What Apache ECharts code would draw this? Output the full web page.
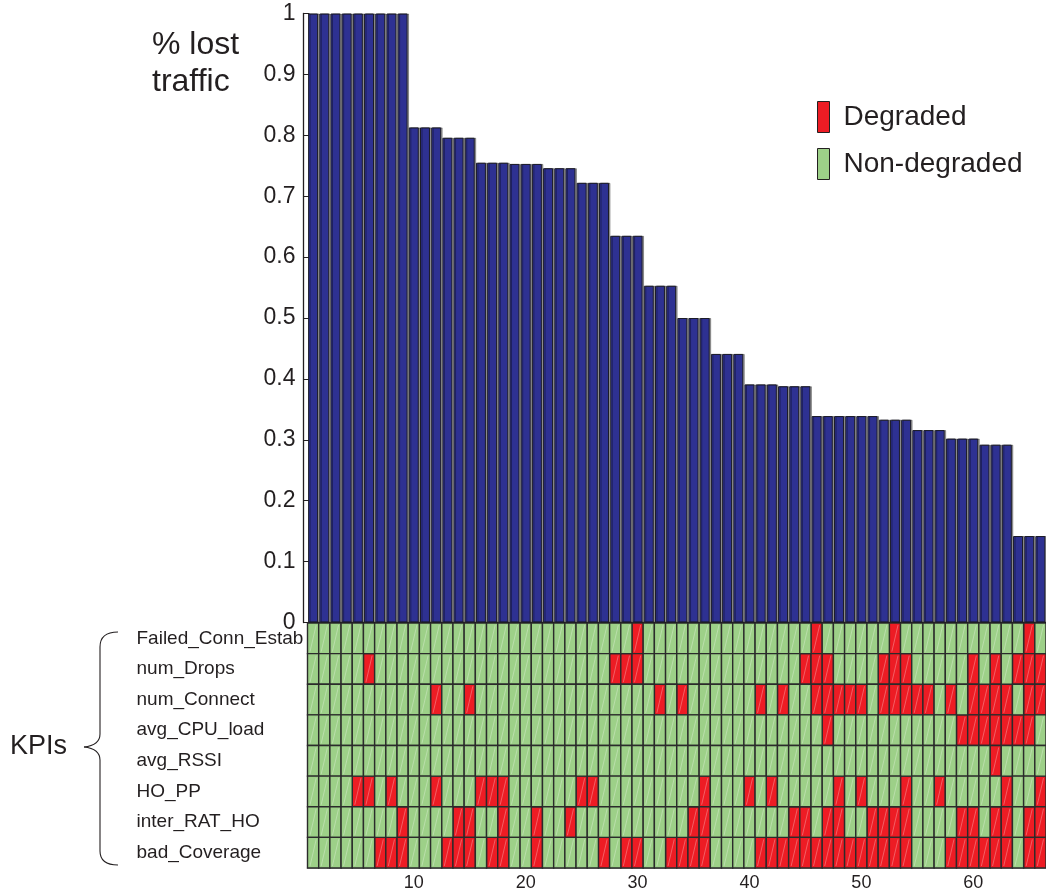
<!DOCTYPE html>
<html>
<head>
<meta charset="utf-8">
<script src="https://cdn.jsdelivr.net/npm/echarts@6/dist/echarts.min.js"></script>
<style>
  html, body { margin: 0; padding: 0; background: #ffffff; }
  #chart { width: 1046px; height: 892px; }
</style>
</head>
<body>
<div id="chart"></div>
<script>
// Cells (sites), sorted by share of lost traffic
const sites = ['1','2','3','4','5','6','7','8','9','10','11','12','13','14','15','16','17','18','19','20',
  '21','22','23','24','25','26','27','28','29','30','31','32','33','34','35','36','37','38','39','40',
  '41','42','43','44','45','46','47','48','49','50','51','52','53','54','55','56','57','58','59','60',
  '61','62','63','64','65','66'];

// Fraction of lost traffic per site
const lostTraffic = [
  1, 1, 1, 1, 1, 1, 1, 1, 1,
  0.813, 0.813, 0.813,
  0.796, 0.796, 0.796,
  0.755, 0.755, 0.755,
  0.753, 0.753, 0.753,
  0.746, 0.746, 0.746,
  0.722, 0.722, 0.722,
  0.635, 0.635, 0.635,
  0.553, 0.553, 0.553,
  0.500, 0.500, 0.500,
  0.441, 0.441, 0.441,
  0.391, 0.391, 0.391,
  0.388, 0.388, 0.388,
  0.339, 0.339, 0.339, 0.339, 0.339, 0.339,
  0.333, 0.333, 0.333,
  0.316, 0.316, 0.316,
  0.302, 0.302, 0.302,
  0.292, 0.292, 0.292,
  0.142, 0.142, 0.142
];

// KPI rows, top to bottom
const kpiNames = ['Failed_Conn_Estab', 'num_Drops', 'num_Connect', 'avg_CPU_load',
  'avg_RSSI', 'HO_PP', 'inter_RAT_HO', 'bad_Coverage'];

// Sites (1-based) where each KPI is degraded
const degFailedConnEstab = [30, 46, 53, 65];
const degNumDrops = [6, 28, 29, 30, 45, 46, 47, 52, 53, 54, 60, 62, 64, 65, 66];
const degNumConnect = [12, 15, 32, 34, 41, 43, 46, 47, 48, 49, 50, 52, 53, 54, 55, 56, 58, 60, 61, 62, 63, 65, 66];
const degAvgCpuLoad = [47, 59, 60, 61, 62, 63, 64, 65];
const degAvgRssi = [62];
const degHoPP = [5, 6, 8, 12, 16, 17, 18, 25, 26, 36, 40, 42, 48, 50, 54, 57, 63, 66];
const degInterRatHo = [9, 14, 15, 18, 21, 24, 35, 36, 44, 45, 47, 48, 51, 52, 53, 54, 59, 60, 62, 63, 65, 66];
const degBadCoverage = [7, 8, 9, 13, 14, 15, 17, 18, 21, 27, 29, 30, 33, 34, 35, 36,
  41, 42, 43, 44, 45, 46, 47, 48, 49, 50, 51, 52, 53, 54, 58, 59, 60, 61, 62, 63, 65, 66];

const degradedByKpi = [degFailedConnEstab, degNumDrops, degNumConnect, degAvgCpuLoad,
  degAvgRssi, degHoPP, degInterRatHo, degBadCoverage];

// Sites that carry an x-axis label
const labelledSites = [10, 20, 30, 40, 50, 60];

const INK = '#231f20';
const FONT = '"Liberation Sans", Arial, Helvetica, sans-serif';

// Split the KPI x site matrix into degraded / non-degraded cells
const degradedCells = [];
const okCells = [];
kpiNames.forEach(function (name, row) {
  const bad = degradedByKpi[row];
  sites.forEach(function (s, col) {
    if (bad.indexOf(col + 1) >= 0) degradedCells.push([col, row]);
    else okCells.push([col, row]);
  });
});

// Each cell: filled box with a thin light diagonal stroke
function renderCell(params, api) {
  const c = api.coord([api.value(0), api.value(1)]);
  const sz = api.size([1, 1]);
  const w = sz[0], h = sz[1];
  const x0 = c[0] - w / 2, y0 = c[1] - h / 2;
  return {
    type: 'group',
    children: [
      { type: 'rect', shape: { x: x0, y: y0, width: w, height: h },
        style: { fill: api.visual('color'), stroke: '#2b2b2b', lineWidth: 1.4 } },
      { type: 'line', shape: { x1: x0 + 2.5, y1: y0 + h - 2, x2: x0 + w - 2.5, y2: y0 + 2 },
        style: { stroke: 'rgba(255,255,255,0.33)', lineWidth: 0.9 } }
    ]
  };
}

// Curly brace grouping the KPI rows
const braceStyle = { fill: 'none', stroke: INK, lineWidth: 1.1 };
const brace = [
  { type: 'bezierCurve', silent: true, style: braceStyle,
    shape: { x1: 118, y1: 632, cpx1: 106, cpy1: 632, cpx2: 100, cpy2: 637, x2: 100, y2: 647 } },
  { type: 'line', silent: true, style: braceStyle,
    shape: { x1: 100, y1: 647, x2: 100, y2: 734 } },
  { type: 'bezierCurve', silent: true, style: braceStyle,
    shape: { x1: 100, y1: 734, cpx1: 100, cpy1: 742, cpx2: 93, cpy2: 746, x2: 84, y2: 747 } },
  { type: 'bezierCurve', silent: true, style: braceStyle,
    shape: { x1: 84, y1: 747, cpx1: 93, cpy1: 748, cpx2: 100, cpy2: 752, x2: 100, y2: 760 } },
  { type: 'line', silent: true, style: braceStyle,
    shape: { x1: 100, y1: 760, x2: 100, y2: 851 } },
  { type: 'bezierCurve', silent: true, style: braceStyle,
    shape: { x1: 100, y1: 851, cpx1: 100, cpy1: 860, cpx2: 106, cpy2: 865, x2: 118, y2: 865 } }
];

const chart = echarts.init(document.getElementById('chart'), null, { renderer: 'canvas' });

chart.setOption({
  animation: false,
  backgroundColor: '#ffffff',
  textStyle: { fontFamily: FONT },
  title: [
    { text: '% lost\ntraffic', left: 152, top: 27, padding: 0,
      textStyle: { fontSize: 32, lineHeight: 37, fontWeight: 'normal', color: INK, fontFamily: FONT } },
    { text: 'KPIs', left: 10, top: 732, padding: 0,
      textStyle: { fontSize: 27, lineHeight: 30, fontWeight: 'normal', color: INK, fontFamily: FONT } }
  ],
  legend: {
    orient: 'vertical',
    left: 817, top: 101,
    padding: 0,
    itemWidth: 12, itemHeight: 31, itemGap: 15,
    icon: 'rect',
    selectedMode: false,
    itemStyle: { borderColor: INK, borderWidth: 1 },
    textStyle: { fontSize: 28, color: INK, fontFamily: FONT, padding: [0, 0, 0, 9] },
    data: ['Degraded', 'Non-degraded']
  },
  graphic: brace,
  grid: [
    { left: 307.5, top: 13.5, width: 741.8, height: 609, containLabel: false },
    { left: 307.5, top: 623, width: 741.8, height: 246, containLabel: false }
  ],
  xAxis: [
    { type: 'category', gridIndex: 0, data: sites,
      axisLine: { show: true, lineStyle: { color: INK, width: 1 } },
      axisTick: { show: false }, axisLabel: { show: false }, splitLine: { show: false } },
    { type: 'category', gridIndex: 1, data: sites,
      axisLine: { show: true, lineStyle: { color: '#8c8c8c', width: 1.5 } },
      axisTick: { show: false },
      axisLabel: {
        interval: function (i) { return labelledSites.indexOf(i + 1) >= 0; },
        fontSize: 18, color: INK, margin: 6, fontFamily: FONT
      },
      splitLine: { show: false } }
  ],
  yAxis: [
    { type: 'value', gridIndex: 0, min: 0, max: 1, interval: 0.1, offset: 4,
      axisLine: { show: true, lineStyle: { color: INK, width: 1.3 } },
      axisTick: { show: true, inside: true, length: 6, lineStyle: { color: INK, width: 1 } },
      axisLabel: { fontSize: 23, color: INK, margin: 8, fontFamily: FONT },
      splitLine: { show: false } },
    { type: 'category', gridIndex: 1, data: kpiNames, inverse: true,
      axisLine: { show: false }, axisTick: { show: false },
      axisLabel: { align: 'left', margin: 171, fontSize: 19, color: INK, fontFamily: FONT },
      splitLine: { show: false } }
  ],
  series: [
    { name: 'lost traffic', type: 'bar', xAxisIndex: 0, yAxisIndex: 0,
      data: lostTraffic, barCategoryGap: '11%',
      itemStyle: { color: '#2e3192', borderColor: '#1c1c28', borderWidth: 1,
        shadowColor: 'rgba(0,0,0,0.35)', shadowOffsetX: 1.5, shadowOffsetY: 0, shadowBlur: 0 } },
    { name: 'Degraded', type: 'custom', xAxisIndex: 1, yAxisIndex: 1,
      itemStyle: { color: '#ed1c24' },
      encode: { x: 0, y: 1 },
      renderItem: renderCell, data: degradedCells },
    { name: 'Non-degraded', type: 'custom', xAxisIndex: 1, yAxisIndex: 1,
      itemStyle: { color: '#9dd088' },
      encode: { x: 0, y: 1 },
      renderItem: renderCell, data: okCells }
  ]
});
</script>
</body>
</html>
